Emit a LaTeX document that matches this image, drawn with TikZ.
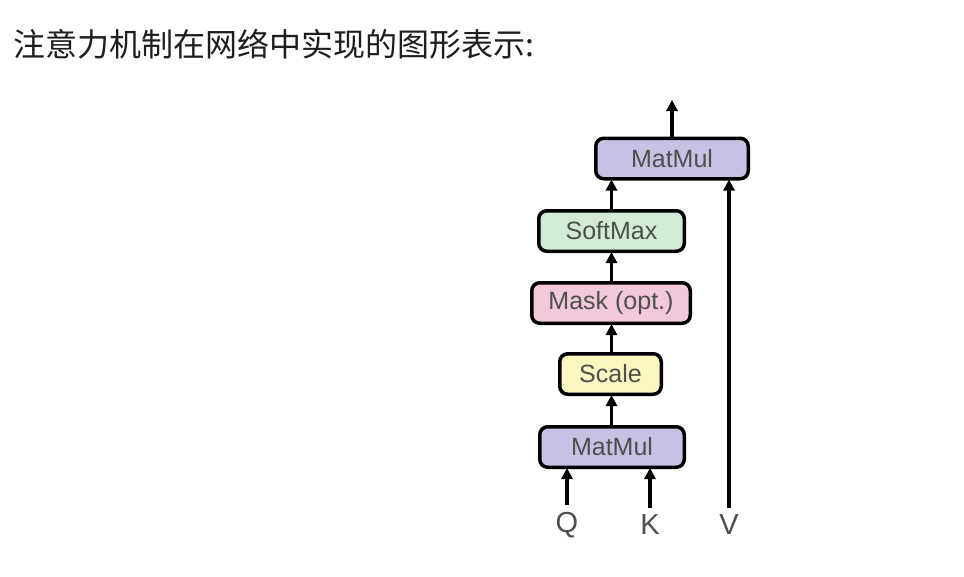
\documentclass[tikz,border=0pt]{standalone}
\usepackage{fontspec}
\setmainfont{Liberation Sans}
\newfontfamily\cjk{Noto Sans CJK SC}
\usetikzlibrary{arrows.meta}
\definecolor{matmulc}{RGB}{199,194,228}
\definecolor{softc}{RGB}{211,234,213}
\definecolor{maskc}{RGB}{242,201,218}
\definecolor{scalec}{RGB}{251,245,192}
\definecolor{txtc}{RGB}{78,78,78}
\definecolor{titlec}{RGB}{30,30,30}
\tikzset{
  opbox/.style={draw=black, line width=3.5pt, rounded corners=8pt, inner sep=0pt,
    minimum height=40.5pt, text=txtc, font=\fontsize{25}{30}\selectfont},
  flow/.style={line width=3.5pt, -{Triangle[width=11pt,length=11pt]}, shorten >=-1pt},
  inlab/.style={text=txtc, font=\fontsize{29}{34}\selectfont, inner sep=0pt}
}
\begin{document}
\begin{tikzpicture}[x=1pt,y=-1pt]
\useasboundingbox (0,0) rectangle (964,576);
\fill[white] (0,0) rectangle (964,576);
\node[anchor=west, inner sep=0pt, text=titlec, font=\cjk\fontsize{32}{38}\selectfont] (title) at (13,44) {注意力机制在网络中实现的图形表示:};

\node[opbox, fill=matmulc, minimum width=152.5pt] (mm2) at (672,158.5) {MatMul};
\node[opbox, fill=softc, minimum width=145.5pt] (soft) at (611.5,231) {SoftMax};
\node[opbox, fill=maskc, minimum width=158.5pt] (mask) at (611,303) {Mask (opt.)};
\node[opbox, fill=scalec, minimum width=101.5pt] (scale) at (610.5,374) {Scale};
\node[opbox, fill=matmulc, minimum width=144.5pt] (mm1) at (612,447) {MatMul};

\node[inlab] (q) at (567,525) {Q};
\node[inlab] (k) at (650,525) {K};
\node[inlab] (v) at (729,525) {V};

\coordinate (out) at (672,101);

\draw[flow] (mm1.north -| soft.south) -- (scale.south -| soft.south);
\draw[flow] (scale.north -| soft.south) -- (mask.south -| soft.south);
\draw[flow] (mask.north -| soft.south) -- (soft.south);
\draw[flow] (soft.north) -- (mm2.south -| soft.north);
\draw[flow] (mm2.north) -- (out);
\draw[flow] ([yshift=7pt]q.north) -- (mm1.south -| q.north);
\draw[flow] ([yshift=7pt]k.north) -- (mm1.south -| k.north);
\draw[flow] ([yshift=7pt]v.north) -- (mm2.south -| v.north);
\end{tikzpicture}
\end{document}
